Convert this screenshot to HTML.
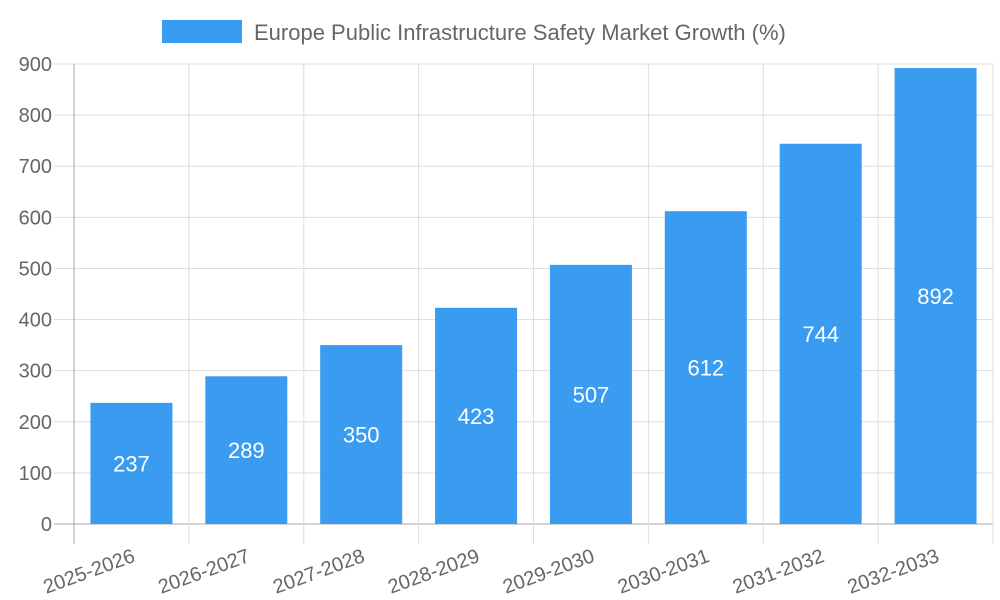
<!DOCTYPE html>
<html><head><meta charset="utf-8"><style>
body{margin:0;background:#fff}
svg{display:block;font-family:"Liberation Sans",sans-serif}
</style></head><body>
<svg id="chart" width="1000" height="600">
<rect x="162" y="20" width="80" height="23" fill="#3a9cf0"/>
<text x="254" y="40" font-size="22" fill="#666">Europe Public Infrastructure Safety Market Growth (%)</text>
<g id="grid"></g><g id="bars"></g><g id="labels"></g>
</svg>
<script>
const categories=["2025-2026","2026-2027","2027-2028","2028-2029","2029-2030","2030-2031","2031-2032","2032-2033"];
const values=[237,289,350,423,507,612,744,892];
const yTicks=[0,100,200,300,400,500,600,700,800,900];
const NS="http://www.w3.org/2000/svg";
const L=74,R=993,T=64,B=524,YMAX=900;
const y=v=>B-(v/YMAX)*(B-T);
const cw=(R-L)/categories.length;
const x=i=>L+cw*i;
function mk(p,tag,at){const e=document.createElementNS(NS,tag);for(const k in at)e.setAttribute(k,at[k]);p.appendChild(e);return e;}
const g=document.getElementById('grid'),b=document.getElementById('bars'),lb=document.getElementById('labels');
yTicks.forEach(t=>{
 const l=mk(g,'line',{x1:54,x2:R,y1:y(t),y2:y(t),stroke:t===0?'#aaa':'#ddd','stroke-width':1});
 
 
 const tx=mk(g,'text',{x:52,y:y(t)+7,'text-anchor':'end','font-size':20,fill:'#666'});
 tx.textContent=t;
 
 
});
for(let i=0;i<=categories.length;i++){
 const l=mk(g,'line',{x1:x(i),x2:x(i),y1:T,y2:544,stroke:i===0?'#aaa':'#ddd','stroke-width':1});
 
 
}
categories.forEach((c,i)=>{
 const cx=x(i)+cw/2,bw=82;
 const r=mk(b,'rect',{x:cx-bw/2,y:y(values[i]),width:bw,height:B-y(values[i]),fill:'#3a9cf0'});
 
 
 const v=mk(lb,'text',{x:cx,y:(y(values[i])+B)/2+8,'text-anchor':'middle','font-size':22,fill:'#fff'});
 v.textContent=values[i];
 
 
 const xl=mk(lb,'text',{x:cx,y:548,'text-anchor':'end','font-size':20,fill:'#666',transform:`rotate(-20 ${cx} 548)`,dy:'0.7em'});
 xl.textContent=c;
 
 
});
</script>
</body></html>
